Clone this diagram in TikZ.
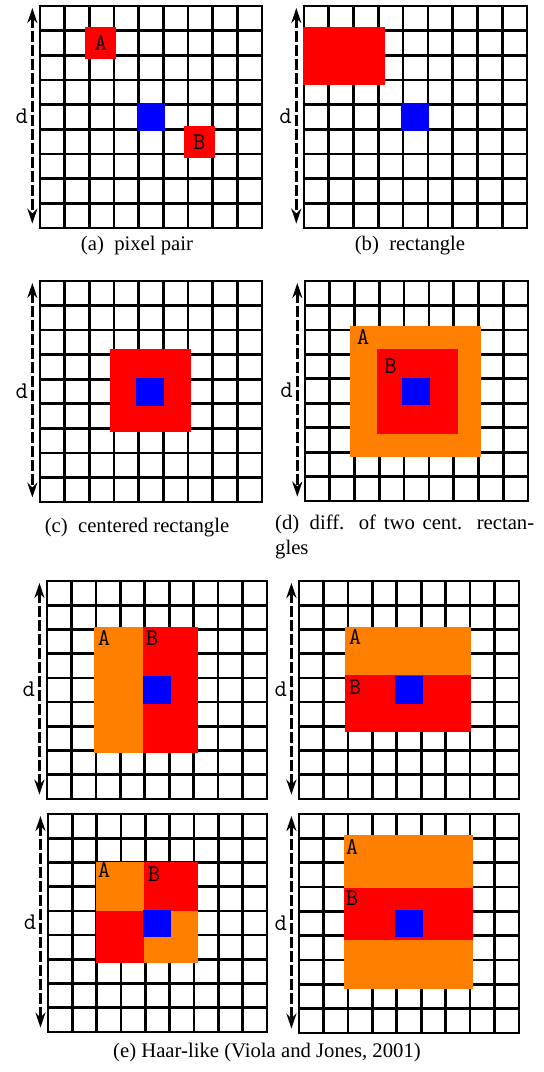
\documentclass[tikz,border=0pt]{standalone}
\usepackage{fontspec}
\setmainfont{Liberation Serif}
\usepackage{xcolor}
\usepackage{tikz}
\usetikzlibrary{arrows.meta}
\definecolor{regred}{HTML}{FF0000}
\definecolor{regorange}{HTML}{FF8000}
\definecolor{pixblue}{HTML}{0000FF}

% 9x9 pixel window with the dashed extent arrow, in cell units
\newcommand{\pixgrid}[1]{%
  \foreach \k in {0,...,9} {
    \draw[gridline] (\k,0) -- (\k,9);
    \draw[gridline] (0,\k) -- (9,\k);
  }
  \coordinate (#1top) at (-0.31,0.08);
  \coordinate (#1bot) at (-0.31,8.82);
  \draw[darrow] (#1top) -- (#1bot);
  \node[dlabel] (#1d) at (-0.74,4.47) {d};
}

\begin{document}
\begin{tikzpicture}[
  x=1pt,y=-1pt,
  gridline/.style={black,line width=2.7pt,line cap=rect},
  darrow/.style={{Stealth[length=15pt,width=10pt]}-{Stealth[length=15pt,width=10pt]},
                 black,line width=2.6pt,dash pattern=on 11pt off 3pt},
  dlabel/.style={font=\fontsize{24}{24}\selectfont\ttfamily,inner sep=0pt},
  reglabel/.style={font=\fontsize{24}{24}\selectfont\ttfamily,inner sep=0pt},
  subcap/.style={font=\fontsize{20.7}{25}\selectfont,inner sep=0pt},
]
\useasboundingbox (0,0) rectangle (544,1072);

% (a) pixel pair
\begin{scope}[shift={(40,6)},x=24.67pt,y=-24.67pt]
  \pixgrid{a}
  \fill[regred] (1.82,0.86) rectangle (3.1,2.15);
  \fill[regred] (5.83,4.86) rectangle (7.09,6.15);
  \fill[pixblue] (3.93,3.93) rectangle (5.05,5.05);
  \node[reglabel] (aA) at (2.46,1.5) {A};
  \node[reglabel] (aB) at (6.46,5.5) {B};
\end{scope}

% (b) rectangle
\begin{scope}[shift={(304,6)},x=24.78pt,y=-24.67pt]
  \pixgrid{b}
  \fill[regred] (-0.04,0.86) rectangle (3.25,3.2);
  \fill[pixblue] (3.91,3.93) rectangle (5.04,5.05);
\end{scope}

% (c) centered rectangle
\begin{scope}[shift={(40,281)},x=24.67pt,y=-24.55pt]
  \pixgrid{c}
  \fill[regred] (2.84,2.76) rectangle (6.12,6.16);
  \fill[pixblue] (3.9,3.95) rectangle (5.03,5.08);
\end{scope}

% (d) two centered rectangles
\begin{scope}[shift={(305,281)},x=24.78pt,y=-24.45pt]
  \pixgrid{d}
  \fill[regorange] (1.82,1.84) rectangle (7.1,7.2);
  \fill[regred] (2.9,2.78) rectangle (6.17,6.26);
  \fill[pixblue] (3.91,3.97) rectangle (5.04,5.07);
  \node[reglabel] (dA) at (2.34,2.28) {A};
  \node[reglabel] (dB) at (3.45,3.47) {B};
\end{scope}

% (e) Haar-like, left/right halves
\begin{scope}[shift={(47,581)},x=24.44pt,y=-24.22pt]
  \pixgrid{ea}
  \fill[regorange] (1.92,1.9) rectangle (3.93,7.1);
  \fill[regred] (3.93,1.9) rectangle (6.18,7.1);
  \fill[pixblue] (3.93,3.92) rectangle (5.07,5.08);
  \node[reglabel] (eaA) at (2.33,2.35) {A};
  \node[reglabel] (eaB) at (4.3,2.35) {B};
\end{scope}

% (e) Haar-like, top/bottom halves
\begin{scope}[shift={(299,581)},x=24.44pt,y=-24.22pt]
  \pixgrid{eb}
  \fill[regorange] (1.88,1.9) rectangle (7.04,3.88);
  \fill[regred] (1.88,3.88) rectangle (7.04,6.23);
  \fill[pixblue] (3.93,3.92) rectangle (5.07,5.08);
  \node[reglabel] (ebA) at (2.29,2.31) {A};
  \node[reglabel] (ebB) at (2.29,4.38) {B};
\end{scope}

% (e) Haar-like, checkerboard
\begin{scope}[shift={(48,814)},x=24.33pt,y=-24.22pt]
  \pixgrid{ec}
  \fill[regorange] (1.97,1.98) rectangle (3.95,4.0);
  \fill[regred] (3.95,1.98) rectangle (6.17,4.0);
  \fill[regred] (1.97,4.0) rectangle (3.95,6.15);
  \fill[regorange] (3.95,4.0) rectangle (6.17,6.15);
  \fill[pixblue] (3.9,3.96) rectangle (5.06,5.08);
  \node[reglabel] (ecA) at (2.3,2.31) {A};
  \node[reglabel] (ecB) at (4.36,2.48) {B};
\end{scope}

% (e) Haar-like, three bands
\begin{scope}[shift={(299,814)},x=24.44pt,y=-24.33pt]
  \pixgrid{ed}
  \fill[regorange] (1.84,0.86) rectangle (7.12,7.19);
  \fill[regred] (1.84,3.04) rectangle (7.12,5.18);
  \fill[pixblue] (3.93,3.95) rectangle (5.07,5.06);
  \node[reglabel] (edA) at (2.17,1.36) {A};
  \node[reglabel] (edB) at (2.17,3.45) {B};
\end{scope}

% Captions
\node[subcap] (capa) at (137,246) {(a)\enspace pixel pair};
\node[subcap] (capb) at (410,246) {(b)\enspace rectangle};
\node[subcap] (capc) at (137,528) {(c)\enspace centered rectangle};
\node[subcap,anchor=north west,text width=259pt,align=justify] (capd) at (275,515)
  {(d)\enspace diff. of two cent. rectan-\linebreak gles};
\node[subcap] (cape) at (267,1053) {(e) Haar-like (Viola and Jones, 2001)};
\end{tikzpicture}
\end{document}
